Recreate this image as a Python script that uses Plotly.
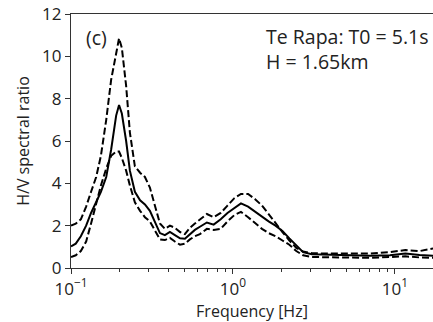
import plotly.graph_objects as go

freq = [0.1, 0.107, 0.115, 0.124, 0.133, 0.143, 0.153, 0.165, 0.177, 0.19, 0.198,
        0.206, 0.219, 0.231, 0.248, 0.267, 0.286, 0.307, 0.33, 0.354, 0.38, 0.408,
        0.438, 0.471, 0.505, 0.542, 0.582, 0.625, 0.69, 0.76, 0.84, 0.925, 1.02,
        1.12, 1.24, 1.37, 1.51, 1.66, 1.83, 2.02, 2.23, 2.46, 2.71, 3.07, 3.97,
        5.28, 7.02, 9.33, 11.6, 14.2, 17.2]

hv_mean = [1.02, 1.15, 1.5, 2.0, 2.6, 3.1, 3.6, 4.3, 5.6, 7.2, 7.7,
           7.3, 6.0, 4.6, 3.6, 3.2, 3.0, 2.7, 2.2, 1.65, 1.55, 1.7,
           1.55, 1.4, 1.38, 1.6, 1.8, 1.95, 2.15, 2.05, 2.3, 2.6, 2.85,
           3.05, 2.9, 2.65, 2.4, 2.2, 2.0, 1.75, 1.4, 1.05, 0.75, 0.65, 0.62,
           0.6, 0.58, 0.6, 0.68, 0.62, 0.58]

hv_upper = [2.0, 2.1, 2.3, 2.9, 3.6, 4.3, 5.3, 7.0, 8.9, 10.2, 10.85,
            10.4, 8.6, 6.4, 4.8, 4.5, 4.3, 3.8, 3.0, 2.1, 1.85, 2.0,
            1.9, 1.7, 1.6, 1.9, 2.1, 2.3, 2.55, 2.4, 2.6, 2.95, 3.3,
            3.5, 3.5, 3.25, 2.95, 2.55, 2.1, 1.7, 1.3, 0.95, 0.78, 0.7, 0.68,
            0.68, 0.68, 0.75, 0.85, 0.8, 0.92]

hv_lower = [0.52, 0.6, 0.8, 1.25, 2.1, 3.0, 3.9, 4.7, 5.3, 5.5, 5.5,
            5.2, 4.6, 3.9, 3.1, 2.7, 2.4, 2.2, 1.8, 1.35, 1.32, 1.42,
            1.25, 1.1, 1.15, 1.35, 1.5, 1.6, 1.85, 1.8, 1.85, 2.2, 2.5,
            2.65, 2.4, 2.1, 1.85, 1.65, 1.5, 1.3, 1.1, 0.8, 0.6, 0.52, 0.5,
            0.5, 0.48, 0.52, 0.55, 0.5, 0.48]

x_tickvals = [0.1, 1, 10]
x_ticktext = ["10<sup>−1</sup>", "10<sup>0</sup>", "10<sup>1</sup>"]
y_tickvals = [0, 2, 4, 6, 8, 10, 12]

minor_vals = [0.2, 0.3, 0.4, 0.5, 0.6, 0.7, 0.8, 0.9,
              2, 3, 4, 5, 6, 7, 8, 9, 20]

FONT = "Open Sans"
fig = go.Figure()
fig.add_trace(go.Scatter(x=freq, y=hv_mean, mode="lines",
                         line=dict(color="black", width=2), showlegend=False))
for s in (hv_upper, hv_lower):
    fig.add_trace(go.Scatter(x=freq, y=s, mode="lines",
                             line=dict(color="black", width=2, dash="7px,3px"),
                             showlegend=False))

fig.update_layout(
    width=433, height=322,
    margin=dict(l=71, r=0, t=14, b=54),
    plot_bgcolor="white", paper_bgcolor="white",
    font=dict(family=FONT, size=17, color="#222"),
    xaxis=dict(type="log", range=[-1, 1.235], tickvals=x_tickvals,
               ticktext=x_ticktext, ticks="outside", ticklen=5, tickwidth=1.3,
               tickcolor="#333", showline=True, linecolor="#333", linewidth=1.3,
               mirror=True, showgrid=False, zeroline=False,
               minor=dict(tickvals=minor_vals, ticks="outside", ticklen=3,
                          tickwidth=1, tickcolor="#333", showgrid=False),
               title=dict(text="Frequency [Hz]", standoff=6,
                          font=dict(size=16))),
    yaxis=dict(range=[0, 12], tickvals=y_tickvals, ticks="outside", ticklen=5,
               tickwidth=1.3, tickcolor="#333", showline=True, linecolor="#333",
               linewidth=1.3, showgrid=False, zeroline=False,
               title=dict(text="H/V spectral ratio", standoff=8,
                          font=dict(size=16))),
    annotations=[
        dict(x=0.035, y=0.906, xref="paper", yref="paper", text="(c)",
             showarrow=False, xanchor="left", yanchor="middle",
             font=dict(size=19.5)),
        dict(x=0.532, y=0.862, xref="paper", yref="paper",
             text="Te Rapa: T0 = 5.1s<br>H = 1.65km", align="left",
             showarrow=False, xanchor="left", yanchor="middle",
             font=dict(size=19.5)),
    ],
)

fig.write_html("out.html")
